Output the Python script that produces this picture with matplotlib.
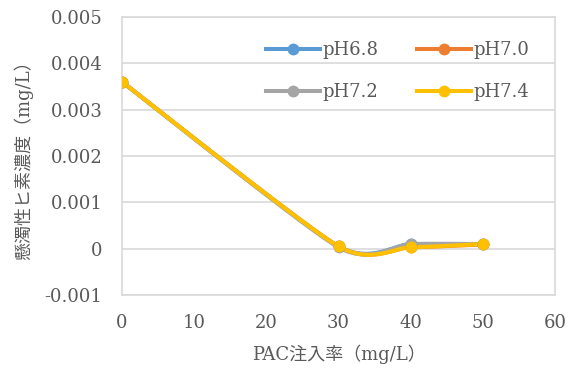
import matplotlib
matplotlib.use('Agg')
import matplotlib.pyplot as plt
import numpy as np
from matplotlib.ticker import FuncFormatter, MultipleLocator

# ── data ──
pac_dose = [0, 30, 40, 50]
series_names = ['pH6.8', 'pH7.0', 'pH7.2', 'pH7.4']
ph68 = [0.0036, 0.00005, 0.00010, 0.00010]
ph70 = [0.0036, 0.00005, 0.00003, 0.00009]
ph72 = [0.0036, 0.00003, 0.00010, 0.00010]
ph74 = [0.0036, 0.00005, 0.00003, 0.00010]

COLORS = ['#5B9BD5', '#ED7D31', '#A5A5A5', '#FFC000']
TXT = '#595959'
GRID = '#D9D9D9'
FONT = ['DejaVu Serif', 'Noto Sans CJK JP']

plt.rcParams['font.family'] = FONT


def smooth(xs, ys, k=0.11, n=40):
    """Excel-like smoothed line (cubic Bezier through the points)."""
    p = np.column_stack([xs, ys]).astype(float)
    out = []
    for i in range(len(p) - 1):
        prev = p[i - 1] if i > 0 else p[i]
        nxt = p[i + 2] if i + 2 < len(p) else p[i + 1]
        c1 = p[i] + (p[i + 1] - prev) * k
        c2 = p[i + 1] - (nxt - p[i]) * k
        t = np.linspace(0, 1, n)[:, None]
        seg = ((1 - t) ** 3 * p[i] + 3 * (1 - t) ** 2 * t * c1
               + 3 * (1 - t) * t ** 2 * c2 + t ** 3 * p[i + 1])
        out.append(seg if i == 0 else seg[1:])
    out = np.vstack(out)
    return out[:, 0], out[:, 1]


fig = plt.figure(figsize=(5.69, 3.70), dpi=100)
ax = fig.add_axes([122 / 569, 1 - 295 / 370, (555 - 122) / 569, (295 - 17) / 370])

handles = []
for name, ys, c in zip(series_names, [ph68, ph70, ph72, ph74], COLORS):
    sx, sy = smooth(pac_dose, ys)
    ax.plot(sx, sy, color=c, lw=2.9, solid_capstyle='round', zorder=3)
    ax.plot(pac_dose, ys, ls='none', marker='o', ms=7.5, color=c, zorder=4)
    h, = ax.plot([], [], color=c, lw=2.9, marker='o', ms=7.5, label=name)
    handles.append(h)

ax.set_xlim(0, 60)
ax.set_ylim(-0.001, 0.005)
ax.xaxis.set_major_locator(MultipleLocator(10))
ax.yaxis.set_major_locator(MultipleLocator(0.001))
ax.yaxis.set_major_formatter(FuncFormatter(lambda v, _: '0' if abs(v) < 1e-9 else f'{v:.3f}'))
ax.grid(axis='y', color=GRID, lw=1.2)
ax.set_axisbelow(True)
for s in ax.spines.values():
    s.set_color(GRID)
    s.set_linewidth(1.2)
ax.tick_params(length=0, labelsize=13, colors=TXT)
ax.tick_params(axis='y', pad=14)
ax.tick_params(axis='x', pad=14)

ax.set_xlabel('PAC注入率（mg/L）', fontsize=13, color=TXT, labelpad=9)
ax.set_ylabel('懸濁性ヒ素濃度（mg/L）', fontsize=13, color=TXT, labelpad=8)

# row-major legend order: 6.8, 7.0 / 7.2, 7.4
order = [0, 2, 1, 3]
fig.legend([handles[i] for i in order], [series_names[i] for i in order],
           loc='upper left', bbox_to_anchor=(257 / 569, 1 - 32 / 370), ncol=2,
           frameon=False, fontsize=13, handlelength=3.0, handletextpad=0.15,
           columnspacing=2.1, labelspacing=1.35, borderpad=0, labelcolor=TXT)

fig.savefig('out.png', dpi=100, facecolor='white')
